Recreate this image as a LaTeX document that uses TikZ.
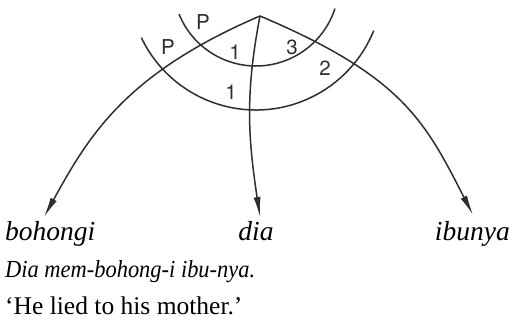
\documentclass[tikz,border=0pt]{standalone}
\usepackage{fontspec}
\usepackage{graphicx}
\setmainfont{Liberation Serif}
\newfontfamily\lblfont{TeX Gyre Heros}
\usetikzlibrary{arrows.meta}
\definecolor{ink}{HTML}{2E2E2E}
\tikzset{
  curve/.style={draw=ink, line width=1.5pt, -{Latex[length=20pt,width=7pt]}},
  band/.style={draw=ink, line width=1.5pt},
  lbl/.style={font=\lblfont\fontsize{20.5}{20.5}\selectfont, text=ink, inner sep=0pt},
  word/.style={font=\fontsize{27.5}{27.5}\selectfont\itshape, inner sep=0pt, anchor=base west},
  sent/.style={font=\fontsize{24.5}{24.5}\selectfont\itshape, inner sep=0pt, anchor=base west},
  gloss/.style={font=\fontsize{25.5}{25.5}\selectfont, inner sep=0pt, anchor=base west}
}
\begin{document}
\begin{tikzpicture}[x=1pt,y=1pt]
\useasboundingbox (0,0) rectangle (512,321);
\coordinate (top) at (260,305);
\coordinate (tipL) at (44,104);
\coordinate (tipM) at (260,104);
\coordinate (tipR) at (473,106);
\coordinate (ctr) at (256,338);
% arcs
\draw[band] (ctr) ++(202:83) arc[start angle=202, end angle=342, radius=83];
\draw[band] (ctr) ++(205.5:127) arc[start angle=205.5, end angle=338, radius=127];
% curves
\draw[curve] (top) .. controls (124.7,247) and (88.6,184.7) .. (tipL);
\draw[curve] (top) .. controls (244.9,226.4) and (248.2,183.1) .. (tipM);
\draw[curve] (top) .. controls (402.7,244.6) and (425.1,199.7) .. (tipR);
% labels
\node[lbl] (p1) at (168,274) {P};
\node[lbl] (p2) at (203,299) {P};
\node[lbl] (n1a) at (235,269) {1};
\node[lbl] (n3) at (292,274) {3};
\node[lbl] (n1b) at (231,229) {1};
\node[lbl] (n2) at (325,253) {2};
% words
\node[word] (w1) at (5,80) {bohongi};
\node[word, anchor=base] (w2) at (256,80) {dia};
\node[word, anchor=base east] (w3) at (510,80) {ibunya};
\node[sent] (s1) at (5,43) {\resizebox{250pt}{\height}{Dia mem-bohong-i ibu-nya.}};
\node[gloss] (s2) at (5,6) {‘He lied to his mother.’};
\end{tikzpicture}
\end{document}
